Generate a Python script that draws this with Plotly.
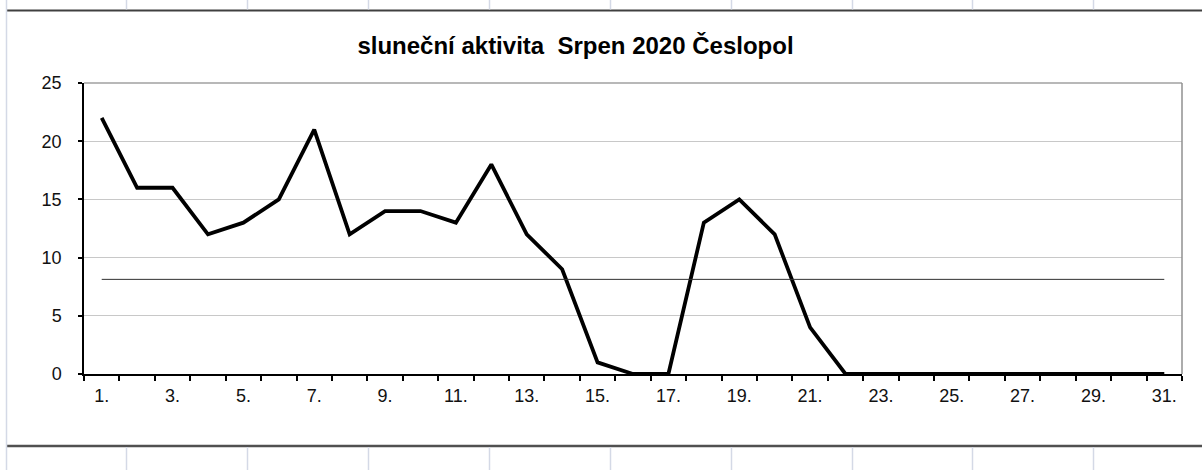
import plotly.graph_objects as go

days = list(range(1, 32))
day_labels = [f"{d}." for d in days]
activity = [22, 16, 16, 12, 13, 15, 21, 12, 14, 14, 13, 18, 12, 9, 1, 0, 0,
            13, 15, 12, 4, 0, 0, 0, 0, 0, 0, 0, 0, 0, 0]
average = [8.13] * 31

W, H = 1202, 470
L, R, T, B = 84, 1182, 83, 374  # plot area in pixels

def px(x):
    return (x - L) / (R - L)

def py(y):
    return (B - y) / (B - T)

fig = go.Figure()
fig.add_trace(go.Scatter(x=days, y=average, mode="lines",
                         line=dict(color="#303030", width=1), xaxis="x2",
                         hoverinfo="skip", showlegend=False))
fig.add_trace(go.Scatter(x=days, y=activity, mode="lines",
                         line=dict(color="#000000", width=3.8),
                         showlegend=False))

font_main = "Liberation Sans, Arial, sans-serif"

shapes = []
# plot area top & right border
shapes.append(dict(type="line", xref="paper", yref="paper", x0=0, x1=1, y0=1, y1=1,
                   line=dict(color="#a0a0a0", width=1.5)))
shapes.append(dict(type="line", xref="paper", yref="paper", x0=1, x1=1, y0=0, y1=1,
                   line=dict(color="#909090", width=1.5)))
# spreadsheet frame
shapes.append(dict(type="line", xref="paper", yref="paper", x0=px(7), x1=px(1210),
                   y0=py(10.5), y1=py(10.5), line=dict(color="#404040", width=2)))
shapes.append(dict(type="line", xref="paper", yref="paper", x0=px(7), x1=px(1210),
                   y0=py(446), y1=py(446), line=dict(color="#505050", width=2.5)))
shapes.append(dict(type="line", xref="paper", yref="paper", x0=px(6.5), x1=px(6.5),
                   y0=py(-5), y1=py(475), line=dict(color="#d4d9e6", width=1.5)))
for cx in [126.5, 247.5, 368.5, 489.5, 610.5, 731.5, 852.5, 972.5, 1093.5]:
    shapes.append(dict(type="line", xref="paper", yref="paper", x0=px(cx), x1=px(cx),
                       y0=py(-5), y1=py(9.5), line=dict(color="#d4d9e6", width=1.5)))
    shapes.append(dict(type="line", xref="paper", yref="paper", x0=px(cx), x1=px(cx),
                       y0=py(447), y1=py(475), line=dict(color="#d4d9e6", width=1.5)))

fig.update_layout(
    width=W, height=H,
    margin=dict(l=L, r=W - R, t=T, b=H - B),
    paper_bgcolor="white", plot_bgcolor="white",
    font=dict(family=font_main, size=18, color="#000000"),
    title=dict(text="<b>sluneční aktivita  Srpen 2020 Česlopol</b>",
               x=px(575.5), xref="paper", xanchor="center",
               y=1 - 46 / H, yanchor="middle",
               font=dict(family=font_main, size=24, color="#000000")),
    xaxis=dict(range=[0.5, 31.5], tickmode="array",
               tickvals=[d + 0.5 for d in range(0, 32)],
               showticklabels=False, ticks="outside", ticklen=5, tickwidth=1.5,
               tickcolor="#000000", showline=True, linecolor="#000000", linewidth=1.5,
               showgrid=False, zeroline=False, fixedrange=True),
    xaxis2=dict(range=[0.5, 31.5], overlaying="x", anchor="y", side="bottom",
                tickmode="array", tickvals=days[::2], ticktext=day_labels[::2],
                ticks="", showline=False, showgrid=False, zeroline=False,
                ticklabelstandoff=9,
                tickfont=dict(family=font_main, size=18, color="#111111")),
    yaxis=dict(range=[0, 25], tickmode="linear", tick0=0, dtick=5,
               ticks="outside", ticklen=4, tickwidth=1.5, tickcolor="#000000",
               showline=True, linecolor="#000000", linewidth=1.5,
               gridcolor="#c8c8c8", gridwidth=1.2, zeroline=False,
               ticklabelstandoff=13,
               tickfont=dict(family=font_main, size=18, color="#111111")),
    shapes=shapes,
)

fig.write_html("out.html",
               config={"displayModeBar": False},
               post_script="document.body.style.margin='0';document.body.style.overflow='hidden';")
